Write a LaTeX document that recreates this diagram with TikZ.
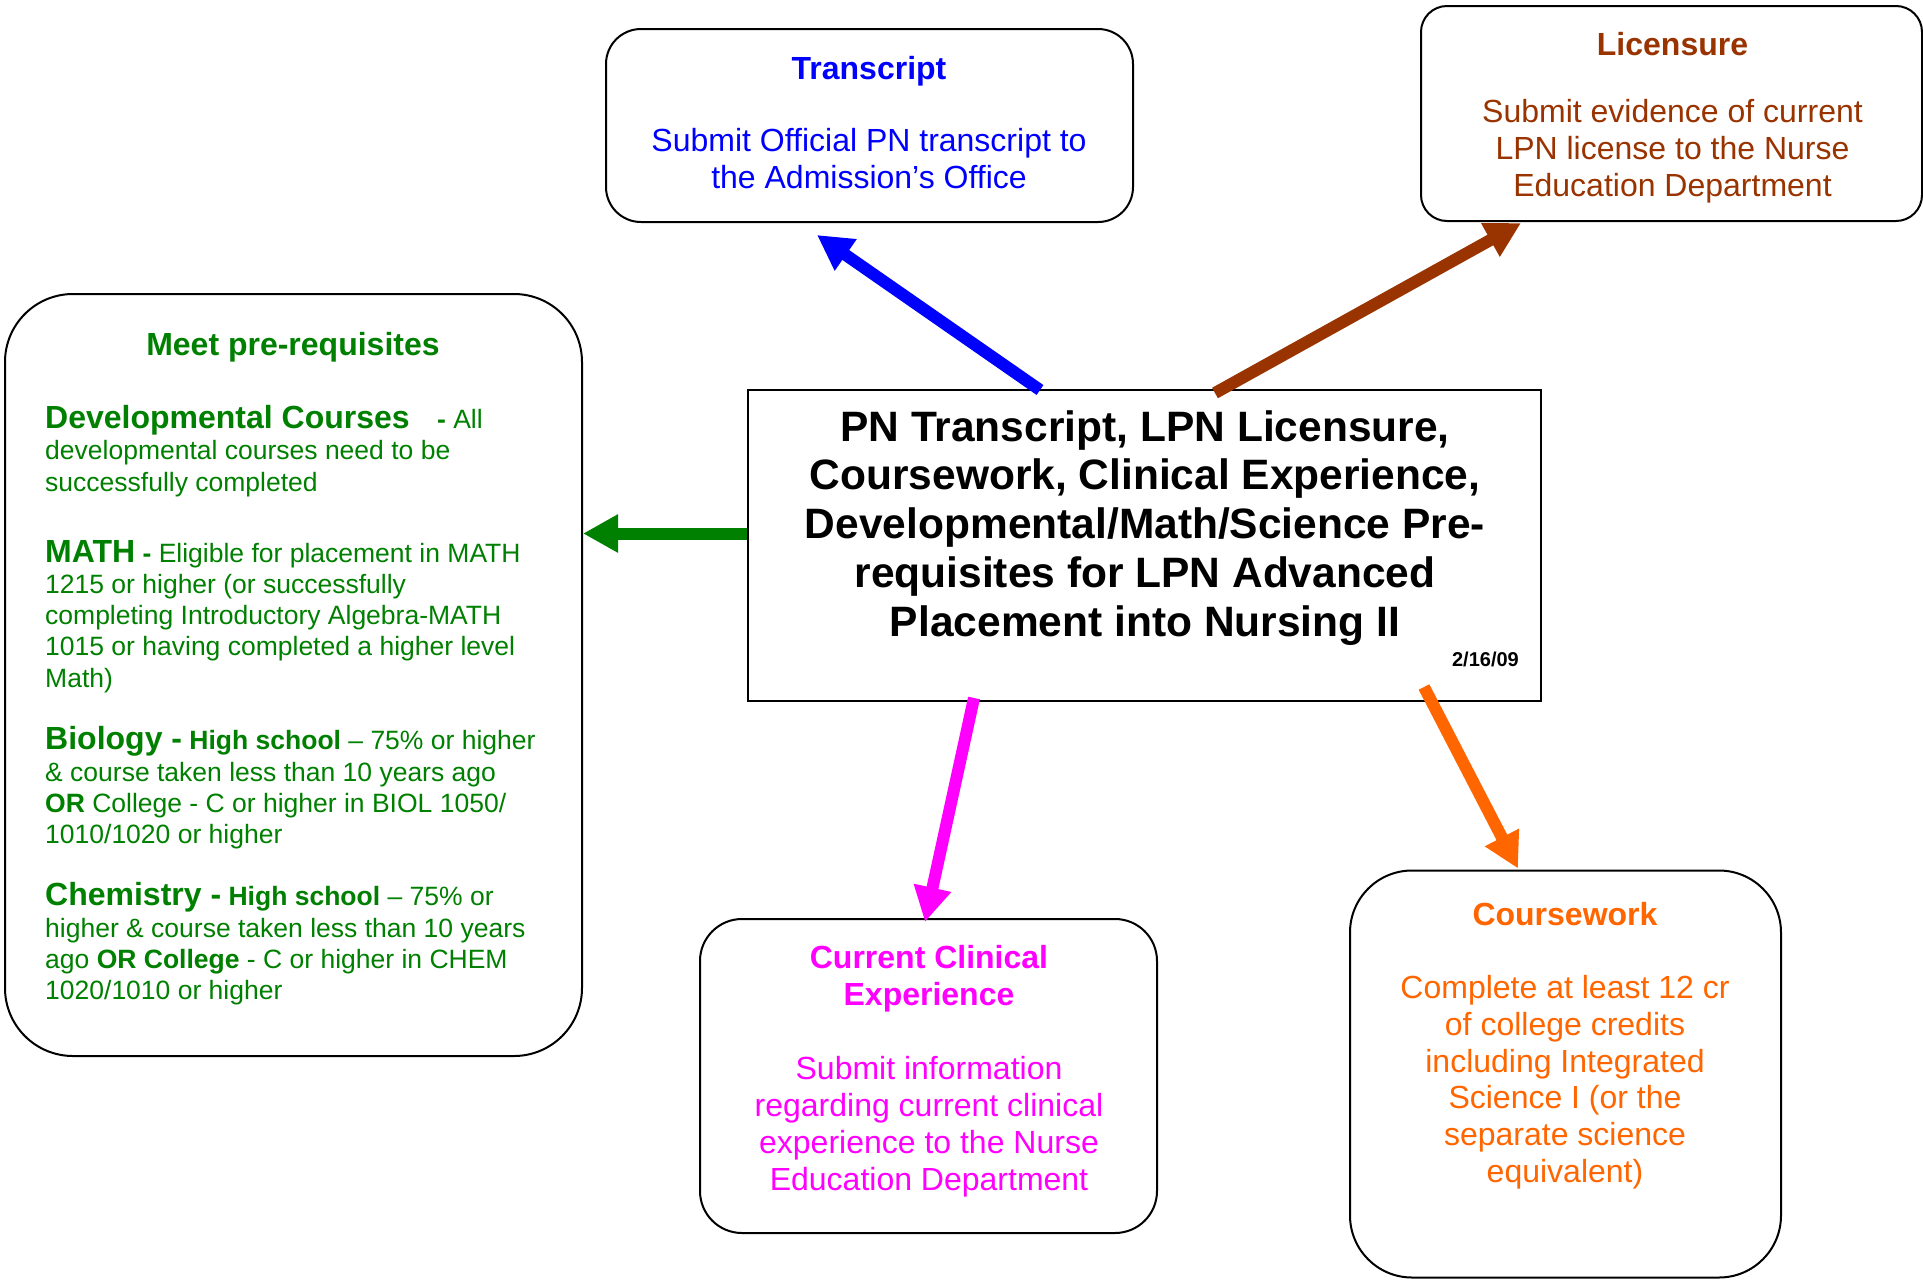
\documentclass[tikz,border=0pt]{standalone}
\usepackage{fontspec}
\setmainfont{Liberation Sans}
\usetikzlibrary{arrows.meta,calc}
\definecolor{cblue}{RGB}{0,0,255}
\definecolor{cbrown}{RGB}{153,51,0}
\definecolor{cgreen}{RGB}{0,128,0}
\definecolor{cmag}{RGB}{255,0,255}
\definecolor{corange}{RGB}{255,102,0}
\newcommand{\hd}[1]{{\fontsize{32}{31.2}\selectfont\bfseries #1}}
\begin{document}
\begin{tikzpicture}[x=1pt,y=-1pt,
  box/.style={draw=black,line width=2pt,inner sep=0pt,rectangle},
  txt/.style={inner sep=0pt,align=center,anchor=base,font=\fontsize{32}{36.8}\selectfont},
  ltxt/.style={inner sep=0pt,align=left,anchor=base west,text=cgreen,font=\fontsize{26.5}{31.2}\selectfont},
  conn/.style={line width=12pt,-{Triangle[length=35pt,width=36pt]}},
]
\useasboundingbox (0,0) rectangle (1923,1283);
\fill[white] (0,0) rectangle (1923,1283);

% boxes
\node[box,rounded corners=35pt,minimum width=527pt,minimum height=193pt] (trans) at (869.5,125.5) {};
\node[box,rounded corners=26pt,minimum width=501pt,minimum height=215pt] (lic) at (1671.5,113.5) {};
\node[box,rounded corners=68pt,minimum width=577pt,minimum height=762pt] (left) at (293.5,675) {};
\node[box,minimum width=793pt,minimum height=311pt] (center) at (1144.5,545.5) {};
\node[box,rounded corners=42pt,minimum width=457pt,minimum height=314pt] (clin) at (928.5,1076) {};
\node[box,rounded corners=62pt,minimum width=431pt,minimum height=407pt] (cw) at (1565.5,1074) {};

% texts (anchor base = baseline of the last line)
\node[txt,text=cblue] (transT) at (869,188) {\textbf{Transcript}\\[35.2pt]Submit Official PN transcript to\\the Admission’s Office};
\node[txt,text=cbrown] (licT) at (1672.5,196) {\textbf{Licensure}\\[30pt]Submit evidence of current\\LPN license to the Nurse\\Education Department};
\node[txt,text=cmag] (clinT) at (929,1190) {\textbf{Current Clinical}\\\textbf{Experience}\\[37.5pt]Submit information\\regarding current clinical\\experience to the Nurse\\Education Department};
\node[txt,text=corange] (cwT) at (1565,1182.5) {\textbf{Coursework}\\[36.7pt]Complete at least 12 cr\\of college credits\\including Integrated\\Science I (or the\\separate science\\equivalent)};
\node[inner sep=0pt,align=center,anchor=base,font=\fontsize{42.5}{48.75}\selectfont\bfseries] (centerT) at (1145,636) {PN Transcript, LPN Licensure,\\Coursework, Clinical Experience,\\Developmental/Math/Science Pre-\\requisites for LPN Advanced\\Placement into Nursing II};
\node[inner sep=0pt,anchor=base east,font=\fontsize{20}{24}\selectfont\bfseries] (date) at (1519,666) {2/16/09};

\node[inner sep=0pt,anchor=base,text=cgreen,font=\fontsize{32}{36.8}\selectfont\bfseries] (leftT) at (293,355) {Meet pre-requisites};
\node[ltxt] (dev) at (45,491) {\hd{Developmental Courses}\hspace{20pt} \textbf{-} All\\developmental courses need to be\\successfully completed};
\node[ltxt] (math) at (45,687) {\hd{MATH} \textbf{-} Eligible for placement in MATH\\1215 or higher (or successfully\\completing Introductory Algebra-MATH\\1015 or having completed a higher level\\Math)};
\node[ltxt] (bio) at (45,843.5) {\hd{Biology -} \textbf{High school} – 75\% or higher\\\& course taken less than 10 years ago\\\textbf{OR} College - C or higher in BIOL 1050/\\1010/1020 or higher};
\node[ltxt] (chem) at (45,999.5) {\hd{Chemistry -} \textbf{High school} – 75\% or\\higher \& course taken less than 10 years\\ago \textbf{OR College} - C or higher in CHEM\\1020/1010 or higher};

% connectors
\coordinate (gs) at ($(center.west)+(0,-12)$);
\draw[conn,cgreen] (gs) -- (gs -| left.east);
\draw[conn,cblue] ($(center.north west)+(293,1)$) -- ($(trans.south west)+(212,12)$);
\draw[conn,cbrown] ($(center.north west)+(468,4)$) -- ($(lic.south west)+(101,1)$);
\draw[conn,cmag] ($(center.south west)+(227,-4)$) -- ($(clin.north west)+(226,4)$);
\draw[conn,corange] ($(center.south west)+(677,-15)$) -- ($(cw.north west)+(169,-1)$);
\end{tikzpicture}
\end{document}
